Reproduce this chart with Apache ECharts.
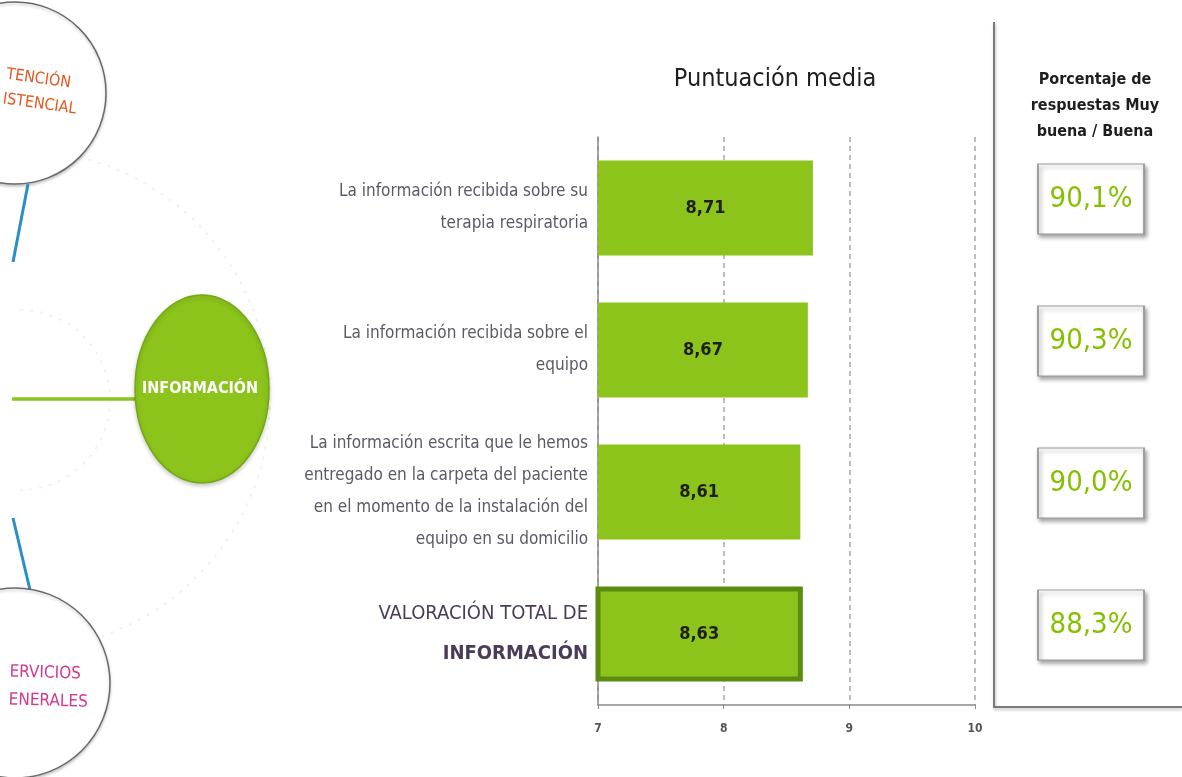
<!DOCTYPE html>
<html>
<head>
<meta charset="utf-8">
<script src="https://cdn.jsdelivr.net/npm/echarts@6/dist/echarts.min.js"></script>
<style>
html,body{margin:0;padding:0;background:#fff;}
#chart{width:1182px;height:777px;}
</style>
</head>
<body>
<div id="chart"></div>
<script>
// ---- data ----
const categories = [
  'La información recibida sobre su\nterapia respiratoria',
  'La información recibida sobre el\nequipo',
  'La información escrita que le hemos\nentregado en la carpeta del paciente\nen el momento de la instalación del\nequipo en su domicilio',
  'VALORACIÓN TOTAL DE\nINFORMACIÓN'
];
const meanScores = [8.71, 8.67, 8.61, 8.63];
const pctGoodVeryGood = [90.1, 90.3, 90.0, 88.3];
const xTicks = [7, 8, 9, 10];
const chartTitle = 'Puntuación media';
const pctTitle = 'Porcentaje de\nrespuestas Muy\nbuena / Buena';

const NARROW = "'DejaVu Sans Condensed','Liberation Sans Narrow','Open Sans',sans-serif";
const GREEN = '#8cc41c';

const chart = echarts.init(document.getElementById('chart'));

const barData = meanScores.map((v, i) => {
  const d = { value: v };
  if (i === categories.length - 1) {
    d.itemStyle = { borderColor: '#5b8c12', borderWidth: 5 };
  }
  return d;
});

const option = {
  backgroundColor: '#ffffff',
  animation: false,
  title: [
    {
      text: chartTitle, left: 770, top: 62, textAlign: 'center',
      textStyle: { fontFamily: NARROW, fontSize: 25, fontWeight: 'normal', color: '#1e1e1e' }
    },
    {
      text: pctTitle, left: 1090, top: 62, textAlign: 'center',
      textStyle: { fontFamily: NARROW, fontSize: 16, fontWeight: 'bold', color: '#1e1e1e', lineHeight: 26 }
    }
  ],
  grid: [
    { left: 598, top: 137, width: 377, height: 568 },
    { left: 1038, top: 128, width: 106, height: 568 }
  ],
  xAxis: [
    {
      gridIndex: 0, type: 'value', min: xTicks[0], max: xTicks[xTicks.length - 1], interval: 1,
      axisLine: { show: true, lineStyle: { color: '#8a8a8a', width: 1.5 } },
      axisTick: { show: true, length: 4, inside: false, lineStyle: { color: '#8a8a8a' } },
      axisLabel: { color: '#555', fontSize: 12, fontWeight: 'bold', fontFamily: NARROW, margin: 18 },
      splitLine: { show: true, lineStyle: { color: '#a8a8a8', type: [5, 4], width: 1.5 } }
    },
    { gridIndex: 1, type: 'value', min: -1, max: 1, show: false }
  ],
  yAxis: [
    {
      gridIndex: 0, type: 'category', data: categories, inverse: true,
      axisLine: { show: true, lineStyle: { color: '#8a8a8a', width: 1.5 } },
      axisTick: { show: false },
      axisLabel: {
        margin: 10, align: 'right',
        fontFamily: NARROW, fontSize: 17, color: '#5a5a66', lineHeight: 32,
        formatter: function (val, idx) {
          if (idx === categories.length - 1) {
            const parts = val.split('\n');
            return '{t|' + parts[0] + '}\n{b|' + parts[1] + '}';
          }
          return val;
        },
        rich: {
          t: { fontFamily: NARROW, fontSize: 20, color: '#4a3c58', lineHeight: 40, align: 'right' },
          b: { fontFamily: NARROW, fontSize: 20, fontWeight: 'bold', color: '#4a3c58', lineHeight: 40, align: 'right' }
        }
      }
    },
    { gridIndex: 1, type: 'category', data: categories, inverse: true, show: false }
  ],
  series: [
    {
      type: 'bar', xAxisIndex: 0, yAxisIndex: 0,
      data: barData,
      barCategoryGap: '33%',
      itemStyle: { color: GREEN },
      label: {
        show: true, position: 'inside',
        fontFamily: NARROW, fontSize: 18, fontWeight: 'bold', color: '#1e1e1e',
        formatter: p => p.value.toFixed(2).replace('.', ',')
      }
    },
    {
      type: 'scatter', xAxisIndex: 1, yAxisIndex: 1,
      data: pctGoodVeryGood.map((v, i) => [0, i, v]),
      encode: { x: 0, y: 1 },
      symbol: 'rect', symbolSize: [106, 70],
      itemStyle: {
        color: '#ffffff', opacity: 1, borderColor: '#9a9a9a', borderWidth: 1.5,
        shadowColor: 'rgba(0,0,0,0.35)', shadowBlur: 4, shadowOffsetX: 2, shadowOffsetY: 3
      },
      emphasis: { disabled: true },
      label: {
        show: true, position: 'inside',
        fontFamily: NARROW, fontSize: 29, color: '#84c000',
        formatter: p => p.value[2].toFixed(1).replace('.', ',') + '%'
      }
    }
  ],
  graphic: [
    // right panel frame (left + bottom border)
    {
      type: 'polyline', z: 1,
      shape: { points: [[994, 22], [994, 707], [1182, 707]] },
      style: { stroke: '#7a7a7a', lineWidth: 2, fill: null, shadowColor: 'rgba(0,0,0,0.25)', shadowBlur: 3, shadowOffsetX: 1, shadowOffsetY: 2 }
    },
    // faint decorative dotted arcs
    {
      type: 'arc', shape: { cx: 20, cy: 400, r: 250, startAngle: -Math.PI * 0.45, endAngle: Math.PI * 0.45 },
      style: { stroke: '#f0f0f0', lineWidth: 2, lineDash: [3, 7], fill: null }
    },
    {
      type: 'arc', shape: { cx: 20, cy: 400, r: 90, startAngle: -Math.PI * 0.5, endAngle: Math.PI * 0.5 },
      style: { stroke: '#f0f0f0', lineWidth: 2, lineDash: [3, 7], fill: null }
    },
    // top circle
    {
      type: 'circle', shape: { cx: 15, cy: 93, r: 91 },
      style: { fill: '#ffffff', stroke: '#6a6a6a', lineWidth: 1.5, shadowColor: 'rgba(0,0,0,0.2)', shadowBlur: 3, shadowOffsetY: 2 }
    },
    {
      type: 'text', x: 8, y: 62, rotation: -0.14,
      style: { text: 'TENCIÓN\nISTENCIAL', fill: '#e8561e', font: "16px 'DejaVu Sans Condensed',sans-serif", lineHeight: 25 }
    },
    // blue connector lines
    {
      type: 'line', shape: { x1: 28, y1: 184, x2: 13, y2: 262 },
      style: { stroke: '#2a8fc6', lineWidth: 3 }
    },
    {
      type: 'line', shape: { x1: 13, y1: 518, x2: 30, y2: 590 },
      style: { stroke: '#2a8fc6', lineWidth: 3 }
    },
    // green horizontal connector
    {
      type: 'line', shape: { x1: 12, y1: 399, x2: 138, y2: 399 },
      style: { stroke: '#8cc21a', lineWidth: 3.5 }
    },
    // green INFORMACIÓN bubble
    {
      type: 'ellipse', shape: { cx: 202, cy: 389, rx: 67, ry: 94 },
      style: { fill: '#8cc41c', stroke: '#76a812', lineWidth: 1.5, shadowColor: 'rgba(0,0,0,0.2)', shadowBlur: 4, shadowOffsetY: 2 }
    },
    {
      type: 'text', x: 200, y: 389,
      style: { text: 'INFORMACIÓN', fill: '#ffffff', font: "bold 16px 'DejaVu Sans Condensed',sans-serif", align: 'center', verticalAlign: 'middle' }
    },
    // bottom circle
    {
      type: 'circle', shape: { cx: 15, cy: 683, r: 95 },
      style: { fill: '#ffffff', stroke: '#6a6a6a', lineWidth: 1.5, shadowColor: 'rgba(0,0,0,0.2)', shadowBlur: 3, shadowOffsetY: 2 }
    },
    {
      type: 'text', x: 10, y: 658, rotation: -0.03,
      style: { text: 'ERVICIOS\nENERALES', fill: '#d4388a', font: "17px 'DejaVu Sans Condensed',sans-serif", lineHeight: 28 }
    }
  ]
};

chart.setOption(option);
</script>
</body>
</html>
